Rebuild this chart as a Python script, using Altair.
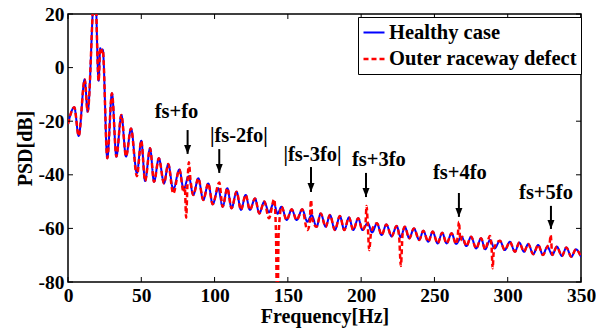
import altair as alt
import pandas as pd

# ---------------- data ----------------
healthy_freq = [0, 4.3, 7.3, 11.4, 13.4, 18.4, 20.9, 22.0, 23.0, 23.7, 26.8, 30.0, 33.0, 36.4, 39.6,
                43.0, 47.0, 50.0, 52.6, 56.0, 58.7, 62.0, 65.5, 68.4, 71.8, 76.0, 78.9, 82.3, 85.5,
                88.9, 92.3, 95.7, 98.7, 102.5, 105.5, 108.7, 111.6, 115.0, 118.0, 121.2, 124.1,
                127.6, 130.5, 133.9, 137.1, 140.4, 143.0, 145.7, 149.2, 152.6, 156.0, 159.8, 163.3,
                166.2, 169.6, 172.4, 175.8, 178.7, 182.1, 185.5, 188.5, 191.7, 194.6, 198.0, 200.9,
                204.5, 207.5, 210.8, 214.0, 217.2, 220.8, 224.2, 227.0, 229.8, 232.8, 236.0, 239.6,
                242.4, 245.8, 248.8, 252.2, 255.3, 258.3, 261.7, 264.8, 268.5, 271.8, 275.0, 278.5,
                281.8, 284.6, 288.0, 291.0, 294.7, 298.0, 301.5, 304.9, 307.9, 311.1, 314.0, 317.4,
                320.8, 324.0, 327.0, 330.4, 333.5, 337.0, 340.0, 343.4, 346.5, 350.0]
healthy_psd = [-21.0, -14.8, -25.5, -4.4, -16.4, 32.0, -4.9, 7.2, 5.8, 6.8, -33.8, -9.6, -33.2, -17.7, -33.2,
               -22.7, -39.4, -27.3, -42.3, -30.1, -42.6, -33.8, -43.2, -36.0, -45.5, -38.0, -45.5, -40.5, -47.5,
               -41.3, -49.4, -43.2, -51.0, -45.0, -51.9, -45.0, -52.5, -46.3, -53.1, -47.5, -53.1,
               -48.8, -54.4, -50.0, -54.0, -50.5, -54.5, -51.9, -56.9, -52.9, -56.9, -52.9, -57.5,
               -55.0, -59.4, -54.4, -59.4, -55.0, -60.6, -55.4, -60.6, -55.9, -60.6, -56.2, -60.6,
               -58.0, -61.5, -58.1, -62.5, -58.5, -63.0, -59.1, -63.3, -59.4, -63.7, -60.0, -64.3,
               -60.9, -65.0, -61.2, -65.6, -61.6, -65.6, -61.8, -65.8, -63.1, -66.6, -63.1, -67.5,
               -63.7, -67.8, -64.3, -67.5, -64.6, -68.1, -65.0, -68.7, -65.3, -68.7, -65.8, -69.6,
               -66.2, -69.9, -66.8, -69.9, -66.8, -70.3, -67.1, -70.6, -67.8, -70.6]

defect_freq = [0, 4.3, 7.3, 11.4, 13.4, 18.4, 20.9, 22.0, 23.0, 23.7, 26.8, 30.0, 33.0, 36.4, 39.6,
               43.0, 47.0, 50.0, 52.6, 56.0, 58.7, 62.0, 65.5, 68.4, 71.8, 76.0, 78.9, 79.7, 80.6,
               81.6, 82.5, 83.5, 85.5, 88.9, 92.3, 95.7, 98.7, 103.2, 105.5, 108.7, 111.6, 115.0,
               118.0, 121.2, 124.1, 127.6, 130.5, 133.9, 137.1, 140.7, 141.9, 142.8, 143.7, 145.7,
               149.2, 152.6, 156.0, 159.8, 163.3, 164.8, 165.8, 166.8, 169.6, 172.4, 175.8, 178.7,
               182.1, 185.5, 188.5, 191.7, 194.6, 198.0, 200.9, 202.9, 203.7, 204.5, 205.5, 206.8,
               210.8, 214.0, 217.2, 220.8, 224.2, 225.9, 227.1, 228.3, 229.8, 232.8, 236.0, 239.6,
               242.4, 245.8, 248.8, 252.2, 255.3, 258.3, 261.7, 264.8, 265.9, 266.7, 267.7, 269.0,
               271.8, 275.0, 278.5, 281.8, 284.6, 287.9, 289.0, 289.7, 290.6, 294.7, 298.0, 301.5,
               304.9, 307.9, 311.1, 314.0, 317.4, 320.8, 324.0, 327.0, 328.6, 329.3, 330.4, 333.5,
               337.0, 340.0, 343.4, 346.5, 350.0]
defect_psd = [-21.0, -14.8, -25.5, -4.4, -16.4, 32.0, -4.9, 7.2, 5.8, 6.8, -33.8, -9.6, -33.2, -17.7, -33.2,
              -22.7, -40.5, -27.3, -42.3, -30.1, -42.6, -33.8, -43.2, -36.0, -47.0, -38.0, -46.5, -44.5, -56.0,
              -42.0, -35.3, -41.5, -47.5, -41.3, -49.4, -43.2, -51.0, -42.9, -51.9, -45.0, -52.5, -46.3,
              -53.1, -47.5, -53.1, -48.8, -54.4, -50.0, -56.2, -49.1, -62.0, -100.0, -62.0, -51.9,
              -56.9, -52.9, -56.9, -52.9, -60.6, -58.5, -49.4, -57.0, -59.4, -54.4, -59.4, -55.0,
              -60.6, -55.4, -60.6, -55.9, -60.6, -56.2, -60.6, -58.5, -51.6, -58.5, -68.1, -61.5,
              -58.1, -62.5, -58.5, -63.0, -59.1, -63.0, -74.0, -62.0, -59.4, -63.7, -60.0, -64.3,
              -60.9, -65.0, -61.2, -65.6, -61.6, -65.6, -61.8, -65.8, -63.0, -57.5, -64.5, -63.1,
              -66.6, -63.1, -67.5, -63.7, -67.8, -62.8, -67.0, -74.9, -67.5, -64.6, -68.1, -65.0,
              -68.7, -65.3, -68.7, -65.8, -69.6, -66.2, -69.9, -66.8, -65.5, -62.5, -69.9, -66.8,
              -70.3, -67.1, -70.6, -67.8, -70.6]

series_names = ["Healthy case", "Outer raceway defect"]
x_ticks = [0, 50, 100, 150, 200, 250, 300, 350]
y_ticks = [-80, -60, -40, -20, 0, 20]

ann_text = ["fs+fo", "|fs-2fo|", "|fs-3fo|", "fs+3fo", "fs+4fo", "fs+5fo"]
ann_freq = [74.0, 116.6, 166.8, 212.1, 267.4, 326.1]
ann_psd = [-16.6, -25.5, -32.6, -34.5, -39.3, -46.8]
arrow_freq = [81.6, 103.2, 165.8, 203.3, 266.7, 329.5]
arrow_top = [-23.3, -30.4, -37.1, -39.3, -46.8, -51.6]
arrow_tip = [-32.2, -39.3, -46.4, -48.3, -55.7, -60.2]

# ---------------- tables ----------------
lines_df = pd.concat([
    pd.DataFrame({"f": healthy_freq, "psd": healthy_psd, "series": series_names[0]}),
    pd.DataFrame({"f": defect_freq, "psd": defect_psd, "series": series_names[1]}),
], ignore_index=True)
xt_df = pd.DataFrame({"f": x_ticks})
yt_df = pd.DataFrame({"psd": y_ticks})
ann_df = pd.DataFrame({"f": ann_freq, "psd": ann_psd, "label": ann_text})
arr_df = pd.DataFrame({"f": arrow_freq, "psd": arrow_top, "psd2": arrow_tip})

FONT = "Liberation Serif"
W, H = 513, 268
XT = "Frequency[Hz]"
YT = "PSD[dB]"
xs = alt.Scale(domain=[0, 350], nice=False, zero=False)
ys = alt.Scale(domain=[-80, 20], nice=False, zero=False)
x_axis = alt.Axis(values=x_ticks, ticks=False, tickSize=0, domain=False, grid=False,
                  labelFlush=False, labelOverlap=False,
                  labelPadding=4, titlePadding=2, format="d")
y_axis = alt.Axis(values=y_ticks, ticks=False, tickSize=0, domain=False, grid=False,
                  labelFlush=False, labelOverlap=False,
                  labelPadding=4, titlePadding=3,
                  labelExpr="datum.value < 0 ? '-' + abs(datum.value) : '' + datum.value")


def X(field):
    return alt.X(field, scale=xs, title=XT, axis=x_axis)


def Y(field):
    return alt.Y(field, scale=ys, title=YT, axis=y_axis)


legend = alt.Legend(title=None, orient="none", legendX=290, legendY=3,
                    symbolType="stroke", symbolSize=441, symbolStrokeWidth=2,
                    labelFont=FONT, labelFontSize=20.5, labelFontWeight="bold",
                    labelColor="black", labelLimit=400, labelOffset=3,
                    padding=4, rowPadding=4, strokeColor="black", fillColor="white",
                    cornerRadius=0)

lines = alt.Chart(lines_df).mark_line(clip=True, interpolate="monotone").encode(
    x=X("f:Q"),
    y=Y("psd:Q"),
    color=alt.Color("series:N", scale=alt.Scale(domain=series_names, range=["#0000ff", "#ff0000"]),
                    legend=legend),
    strokeDash=alt.StrokeDash("series:N", scale=alt.Scale(domain=series_names, range=[[1, 0], [5, 3]]),
                              legend=legend),
    strokeWidth=alt.StrokeWidth("series:N", scale=alt.Scale(domain=series_names, range=[2, 2.5]),
                                legend=None),
    order=alt.Order("f:Q"),
)

xt_bottom = alt.Chart(xt_df).mark_rule(color="black", strokeWidth=1).encode(
    x=X("f:Q"), y=alt.value(H), y2=alt.value(H - 5))
xt_top = alt.Chart(xt_df).mark_rule(color="black", strokeWidth=1).encode(
    x=X("f:Q"), y=alt.value(0), y2=alt.value(5))
yt_left = alt.Chart(yt_df).mark_rule(color="black", strokeWidth=1).encode(
    y=Y("psd:Q"), x=alt.value(0), x2=alt.value(5))
yt_right = alt.Chart(yt_df).mark_rule(color="black", strokeWidth=1).encode(
    y=Y("psd:Q"), x=alt.value(W), x2=alt.value(W - 5))

texts = alt.Chart(ann_df).mark_text(font=FONT, fontSize=20.5, fontWeight="bold", color="black",
                                    align="center", baseline="middle").encode(
    x=X("f:Q"), y=Y("psd:Q"), text="label:N")

shafts = alt.Chart(arr_df).mark_rule(color="black", strokeWidth=2).encode(
    x=X("f:Q"), y=Y("psd:Q"), y2=alt.Y2("psd2:Q", title=YT))

heads = alt.Chart(arr_df).mark_point(shape="M-0.78,-1L0.78,-1L0,1Z", filled=True, size=81,
                                     color="black", opacity=1, yOffset=-4.5).encode(
    x=X("f:Q"), y=Y("psd2:Q"))

chart = alt.layer(lines, xt_bottom, xt_top, yt_left, yt_right, shafts, heads, texts).properties(
    width=W, height=H,
    autosize=alt.AutoSizeParams(type="none"),
    padding={"left": 60, "top": 6, "right": 15, "bottom": 48},
    background="white",
).configure_view(stroke="black", strokeWidth=1.5).configure_axis(
    labelFont=FONT, labelFontSize=19.5, labelFontWeight="bold", labelColor="black",
    titleFont=FONT, titleFontSize=20, titleFontWeight="bold", titleColor="black",
)

chart.save("out.html", embed_options={"renderer": "svg", "actions": False})
